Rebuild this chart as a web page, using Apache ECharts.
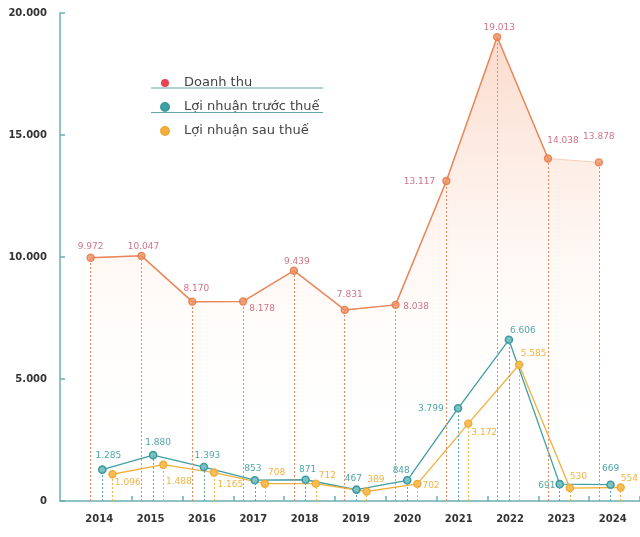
<!DOCTYPE html>
<html><head><meta charset="utf-8">
<script src="https://cdn.jsdelivr.net/npm/echarts@6/dist/echarts.min.js"></script>
<style>html,body{margin:0;padding:0;background:#fff}#c{width:640px;height:537px}</style>
</head><body><div id="c"></div>
<script>
// ---- data ----
const years = ['2014','2015','2016','2017','2018','2019','2020','2021','2022','2023','2024'];
const revenue = [9972, 10047, 8170, 8178, 9439, 7831, 8038, 13117, 19013, 14038, 13878];
const profitBeforeTax = [1285, 1880, 1393, 853, 871, 467, 848, 3799, 6606, 691, 669];
const profitAfterTax = [1096, 1488, 1165, 708, 712, 389, 702, 3172, 5585, 530, 554];
const yTickStep = 5000;
const yMax = 20000;

// ---- styling / placement (not data) ----
const OFF = { rev: -0.23, pre: 0, post: 0.2 };
const FONT = 'DejaVu Sans';
const AXIS = '#6aafb2';

function fmt(v){ return String(v).replace(/\B(?=(\d{3})+(?!\d))/g, '.'); }
function pts(arr, off){ return arr.map((v, i) => [i + off, v]); }
function drops(arr, off){ return arr.map((v, i) => [{coord:[i + off, 0]}, {coord:[i + off, v]}]); }

const revLabel = [
  {position:'top', distance:2.5, offset:[0,0]},
  {position:'top', distance:2.5, offset:[2,2]},
  {position:'top', distance:2.5, offset:[4,-2]},
  {position:'right', distance:2, offset:[0,7]},
  {position:'top', distance:2.5, offset:[3,2]},
  {position:'top', distance:2.5, offset:[5,-4.5]},
  {position:'right', distance:3.5, offset:[0,2]},
  {position:'left', distance:7, offset:[0,0.5]},
  {position:'top', distance:2.5, offset:[2,2]},
  {position:'top', distance:2.5, offset:[15,-7]},
  {position:'top', distance:2.5, offset:[0,-15]}
];
const preLabel = [
  {position:'top', distance:2.5, offset:[6,-2.4]},
  {position:'top', distance:2.5, offset:[5,-1.3]},
  {position:'top', distance:2.5, offset:[3.5,-0.5]},
  {position:'top', distance:2.5, offset:[-2,-0.5]},
  {position:'top', distance:2.5, offset:[2,0.8]},
  {position:'top', distance:2.5, offset:[-3,0]},
  {position:'top', distance:2.5, offset:[-6,2]},
  {position:'left', distance:10, offset:[0,0]},
  {position:'top', distance:2.5, offset:[14,2.4]},
  {position:'left', distance:0, offset:[0,1.5]},
  {position:'top', distance:2.5, offset:[0,-5]}
];
const postLabel = [
  {position:'right', distance:0, offset:[-1.8,8]},
  {position:'right', distance:0, offset:[-1.5,17]},
  {position:'right', distance:0, offset:[-0.8,12]},
  {position:'right', distance:0, offset:[-1.2,-11]},
  {position:'right', distance:0, offset:[-1.2,-7.5]},
  {position:'right', distance:0, offset:[-3.5,-12]},
  {position:'right', distance:0, offset:[0.8,2]},
  {position:'right', distance:0, offset:[-1.1,9]},
  {position:'right', distance:0, offset:[-2.5,-11]},
  {position:'right', distance:0, offset:[-4.2,-11]},
  {position:'right', distance:0, offset:[-4.1,-9]}
];

function withLabels(arr, off, lbls){
  return pts(arr, off).map((p, i) => ({ value: p, label: lbls[i] }));
}

const chart = echarts.init(document.getElementById('c'), null, {renderer:'canvas'});
chart.setOption({
  animation: false,
  backgroundColor: '#fff',
  grid: { left: 60, right: 0, top: 13, bottom: 36 },
  legend: {
    orient: 'vertical', left: 155, top: 70, itemWidth: 8, itemHeight: 8, itemGap: 8,
    icon: 'circle', selectedMode: false,
    textStyle: { fontFamily: FONT, fontSize: 13, color: '#444', lineHeight: 16, padding: [0,0,0,10] },
    data: [
      { name: 'Doanh thu', itemStyle: { color: '#e8434f' } },
      { name: 'Lợi nhuận trước thuế', itemStyle: { color: '#3da3a4' } },
      { name: 'Lợi nhuận sau thuế', itemStyle: { color: '#f5ae3c' } }
    ]
  },
  graphic: [
    { type: 'line', shape: { x1: 151, y1: 88, x2: 323, y2: 88 }, style: { stroke: '#5fa9ac', lineWidth: 1 } },
    { type: 'line', shape: { x1: 151, y1: 112.5, x2: 323, y2: 112.5 }, style: { stroke: '#5fa9ac', lineWidth: 1 } }
  ],
  xAxis: {
    type: 'value', min: -0.8324, max: 10.58,
    axisLine: { show: true, onZero: false, lineStyle: { color: AXIS, width: 1.5 } },
    axisTick: { show: true, inside: true, length: 5, lineStyle: { color: AXIS, width: 1.5 },
      customValues: years.map((_, i) => i + 0.58) },
    axisLabel: { customValues: years.map((_, i) => i - 0.06 + 0.0104 * i),
      formatter: v => years[Math.round(v)], margin: 13,
      fontFamily: FONT, fontWeight: 'bold', fontSize: 10, color: '#333' },
    splitLine: { show: false }
  },
  yAxis: {
    type: 'value', min: 0, max: yMax, interval: yTickStep,
    axisLine: { show: true, onZero: false, lineStyle: { color: AXIS, width: 1.5 } },
    axisTick: { show: true, inside: true, length: 5, lineStyle: { color: AXIS, width: 1.5 } },
    axisLabel: { formatter: v => fmt(v), margin: 13, fontFamily: FONT, fontWeight: 'bold', fontSize: 10, color: '#333' },
    splitLine: { show: false }
  },
  series: [
    {
      type: 'line', name: 'Doanh thu', data: pts(revenue, OFF.rev), showSymbol: false, silent: true, z: 1,
      lineStyle: { color: '#f6cfbd', width: 1 },
      areaStyle: { color: { type: 'linear', x: 0, y: 0, x2: 0, y2: 1, colorStops: [
        { offset: 0, color: 'rgba(245,160,120,0.55)' },
        { offset: 0.35, color: 'rgba(248,190,160,0.30)' },
        { offset: 0.65, color: 'rgba(253,230,218,0.12)' },
        { offset: 1, color: 'rgba(255,255,255,0)' } ] } },
      markLine: { symbol: ['none','none'], silent: true, label: { show: false },
        lineStyle: { color: '#e58a5e', type: [2,2], width: 1 }, data: drops(revenue, OFF.rev) }
    },
    {
      type: 'line', name: 'Lợi nhuận trước thuế', data: withLabels(profitBeforeTax, OFF.pre, preLabel), z: 3,
      symbol: 'circle', symbolSize: 7,
      lineStyle: { color: '#3f9ea2', width: 1.3 },
      itemStyle: { color: '#7cc4c6', borderColor: '#3d9a9e', borderWidth: 1.6 },
      label: { show: true, formatter: p => fmt(p.value[1]), fontFamily: FONT, fontSize: 9, color: '#4fa6a9' },
      markLine: { symbol: ['none','none'], silent: true, label: { show: false },
        lineStyle: { color: '#5aa8ab', type: [2,2], width: 1 }, data: drops(profitBeforeTax, OFF.pre) }
    },
    {
      type: 'line', name: 'Lợi nhuận sau thuế', data: withLabels(profitAfterTax, OFF.post, postLabel), z: 3,
      symbol: 'circle', symbolSize: 7,
      lineStyle: { color: '#f0b03e', width: 1.3 },
      itemStyle: { color: '#f7bf55', borderColor: '#efa936', borderWidth: 1.4 },
      label: { show: true, formatter: p => fmt(p.value[1]), fontFamily: FONT, fontSize: 9, color: '#f1b445' },
      markLine: { symbol: ['none','none'], silent: true, label: { show: false },
        lineStyle: { color: '#f3b54a', type: [2,2], width: 1 }, data: drops(profitAfterTax, OFF.post) }
    },
    {
      type: 'line', name: 'Doanh thu', data: pts(revenue.slice(0, 10), OFF.rev), showSymbol: false, silent: true, z: 2,
      lineStyle: { color: '#e8875a', width: 1.5 }
    },
    {
      type: 'scatter', name: 'Doanh thu', data: withLabels(revenue, OFF.rev, revLabel), z: 4,
      symbol: 'circle', symbolSize: 7,
      itemStyle: { color: '#ef9165', borderColor: '#e4733f', borderWidth: 1.4 },
      label: { show: true, formatter: p => fmt(p.value[1]), fontFamily: FONT, fontSize: 9, color: '#c3506a' }
    }
  ]
});
</script>
</body></html>
